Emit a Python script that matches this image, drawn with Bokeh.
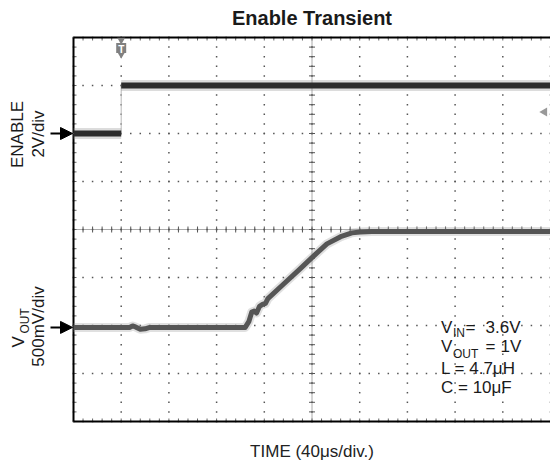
import numpy as np
from bokeh.plotting import figure
from bokeh.models import Range1d, Label, Arrow, NormalHead
from bokeh.embed import file_html
from bokeh.resources import INLINE

# ---------------- data ----------------
us_per_div = 40
n_xdiv = 10
n_ydiv = 8
enable_v_per_div = 2.0
vout_v_per_div = 0.5
enable_ref_div = 6.0      # ENABLE ground marker (divisions from bottom)
vout_ref_div = 1.96       # VOUT ground marker
trigger_time_us = 40
trigger_level_v = 0.9

enable_t_us = [0, 40, 40, 400]
enable_v = [0.0, 0.0, 2.0, 2.0]

vout_t_us = [0, 47, 49.5, 52, 56, 60, 64, 144, 147, 149.5, 151.5, 153.5, 156,
             158.5, 161, 163, 176, 190, 201.5, 212.5, 224, 233.5, 240.5, 250, 400]
vout_v = [0, 0, 0.015, 0.005, -0.02, -0.015, 0, 0, 0.06, 0.16, 0.17, 0.15, 0.22,
          0.24, 0.25, 0.30, 0.45, 0.61, 0.745, 0.87, 0.945, 0.985, 0.995, 1.0, 1.0]

title_text = "Enable Transient"
x_label = "TIME (40μs/div.)"
ch1_name = "ENABLE"
ch1_scale = "2V/div"
ch2_name = "V"
ch2_sub = "OUT"
ch2_scale = "500mV/div"
vin_text, vout_text = "3.6V", "1V"
l_text = "L = 4.7μH"
c_text = "C = 10μF"

# ---------------- layout ----------------
FONT = "Liberation Sans"
W, H = 550, 465
FRAME_LEFT, FRAME_TOP = 73.0, 37.0   # page px of the scope screen
DIV_W, DIV_H = 47.7, 48.0
x_max = us_per_div * n_xdiv


def px_x(page_x):
    return (page_x - FRAME_LEFT) / DIV_W * us_per_div


def px_y(page_y):
    return (FRAME_TOP + DIV_H * n_ydiv - page_y) / DIV_H


def dpx_y(n):      # n pixels expressed in divisions
    return n / DIV_H


p = figure(width=W, height=H, min_border=0,
           x_range=Range1d(px_x(0), px_x(W)), y_range=Range1d(px_y(H), px_y(0)),
           x_axis_location=None, y_axis_location=None,
           output_backend="svg", toolbar_location=None)
p.outline_line_color = None
p.grid.visible = False
p.background_fill_color = "white"
p.border_fill_color = "white"

# dotted graticule: dots every 1/5 division along each division line
sub_x = np.arange(0, x_max + 0.1, us_per_div / 5)
sub_y = np.round(np.arange(0, n_ydiv + 0.01, 0.2), 2)
div_x = np.arange(0, x_max + 0.1, us_per_div)
div_y = np.arange(0, n_ydiv + 0.01, 1)
hx, hy = np.meshgrid(sub_x, div_y)
vx, vy = np.meshgrid(div_x, sub_y)
p.scatter(x=np.concatenate([hx.ravel(), vx.ravel()]),
          y=np.concatenate([hy.ravel(), vy.ravel()]),
          marker="square", size=1.5, fill_color="#555555", line_color=None)

# centre graticule with sub-division ticks
p.line(x=[x_max / 2, x_max / 2], y=[0, n_ydiv], line_color="#555555", line_dash="1 1")
p.line(x=[0, x_max], y=[n_ydiv / 2, n_ydiv / 2], line_color="#555555", line_dash="1 1")
p.scatter(x=sub_x, y=n_ydiv / 2, marker="dash", angle=np.pi / 2, size=6, line_color="#555555")
p.scatter(x=x_max / 2, y=sub_y, marker="dash", size=6, line_color="#555555")

# border minor ticks (inside the screen)
p.segment(x0=sub_x, y0=0, x1=sub_x, y1=dpx_y(3), line_color="#666666")
p.segment(x0=sub_x, y0=n_ydiv, x1=sub_x, y1=n_ydiv - dpx_y(3), line_color="#666666")
p.segment(x0=0, y0=sub_y, x1=px_x(FRAME_LEFT + 3), y1=sub_y, line_color="#666666")

# screen border (left, top, bottom)
p.multi_line(xs=[[0, 0], [0, x_max], [0, x_max]], ys=[[0, n_ydiv], [n_ydiv, n_ydiv], [0, 0]],
             line_color="black", line_width=2)

# ---------------- traces ----------------
en_t = np.array(enable_t_us, float)
en_y = enable_ref_div + np.array(enable_v) / enable_v_per_div
edges = np.where(np.diff(en_t) == 0)[0] + 1
thick_t = np.insert(en_t, edges, np.nan)
thick_y = np.insert(en_y, edges, np.nan)
p.line(en_t, en_y, line_color="#b8b8b8", line_width=1)
p.line(thick_t, thick_y, line_color="#8a8a8a", line_alpha=0.3, line_width=11)
p.line(thick_t, thick_y, line_color="#2d2d2d", line_width=6)

vo_y = vout_ref_div + np.array(vout_v) / vout_v_per_div
p.line(vout_t_us, vo_y, line_color="#999999", line_alpha=0.3, line_width=9, line_join="round")
p.line(vout_t_us, vo_y, line_color="#555555", line_width=5, line_join="round")

# trigger marker at top and trigger-level marker on right
p.scatter(x=[trigger_time_us], y=[px_y(39.5)], marker="inverted_triangle", size=8,
          fill_color="#808080", line_color=None)
p.scatter(x=[trigger_time_us], y=[px_y(47.5)], marker="square", size=10,
          fill_color="#808080", line_color=None)
p.scatter(x=[trigger_time_us], y=[px_y(53)], marker="inverted_triangle", size=9,
          fill_color="#808080", line_color=None)
p.scatter(x=[px_x(544)], y=[enable_ref_div + trigger_level_v / enable_v_per_div],
          marker="triangle", angle=np.pi / 2, size=9, fill_color="#999999", line_color=None)

# channel ground arrows
for ref in (enable_ref_div, vout_ref_div):
    p.add_layout(Arrow(x_start=px_x(50), y_start=ref, x_end=px_x(72), y_end=ref,
                       line_width=2, line_color="black",
                       end=NormalHead(size=12, fill_color="black", line_color="black")))


def lab(x, y, text, size="17px", align="left", angle=0.0, style="normal", color="#1a1a1a"):
    # anchors are the vertical centre of the capitals
    p.add_layout(Label(x=x, y=y, text=text, text_align=align, text_baseline="middle",
                       angle=angle, text_font=FONT, text_font_size=size,
                       text_font_style=style, text_color=color))


lab(trigger_time_us, px_y(48.5), "T", size="10px", align="center", style="bold", color="white")

# titles
lab(x_max / 2, px_y(17.5), title_text, size="20px", align="center", style="bold")
lab(x_max / 2, px_y(451), x_label, size="17px", align="center", color="#222222")

# channel labels (rotated)
rot = np.pi / 2
lab(px_x(16.5), px_y(134), ch1_name, align="center", angle=rot)
lab(px_x(37.5), px_y(133.5), ch1_scale, align="center", angle=rot)
lab(px_x(37.5), px_y(326), ch2_scale, align="center", angle=rot)
lab(px_x(17.5), px_y(347), ch2_name, align="left", angle=rot)
lab(px_x(24.5), px_y(333), ch2_sub, size="12px", align="left", angle=rot)

# conditions block
lab(px_x(440.5), px_y(326.5), "V")
lab(px_x(452.5), px_y(332.7), "IN", size="12px")
lab(px_x(465), px_y(326.5), "=")
lab(px_x(485), px_y(326.5), vin_text)
lab(px_x(440.5), px_y(346.2), "V")
lab(px_x(452.5), px_y(353.7), "OUT", size="12px")
lab(px_x(485), px_y(346.2), "=")
lab(px_x(500), px_y(346.2), vout_text)
lab(px_x(440.5), px_y(367.5), l_text)
lab(px_x(440.5), px_y(386.5), c_text)

open("out.html", "w").write(file_html(p, INLINE))
